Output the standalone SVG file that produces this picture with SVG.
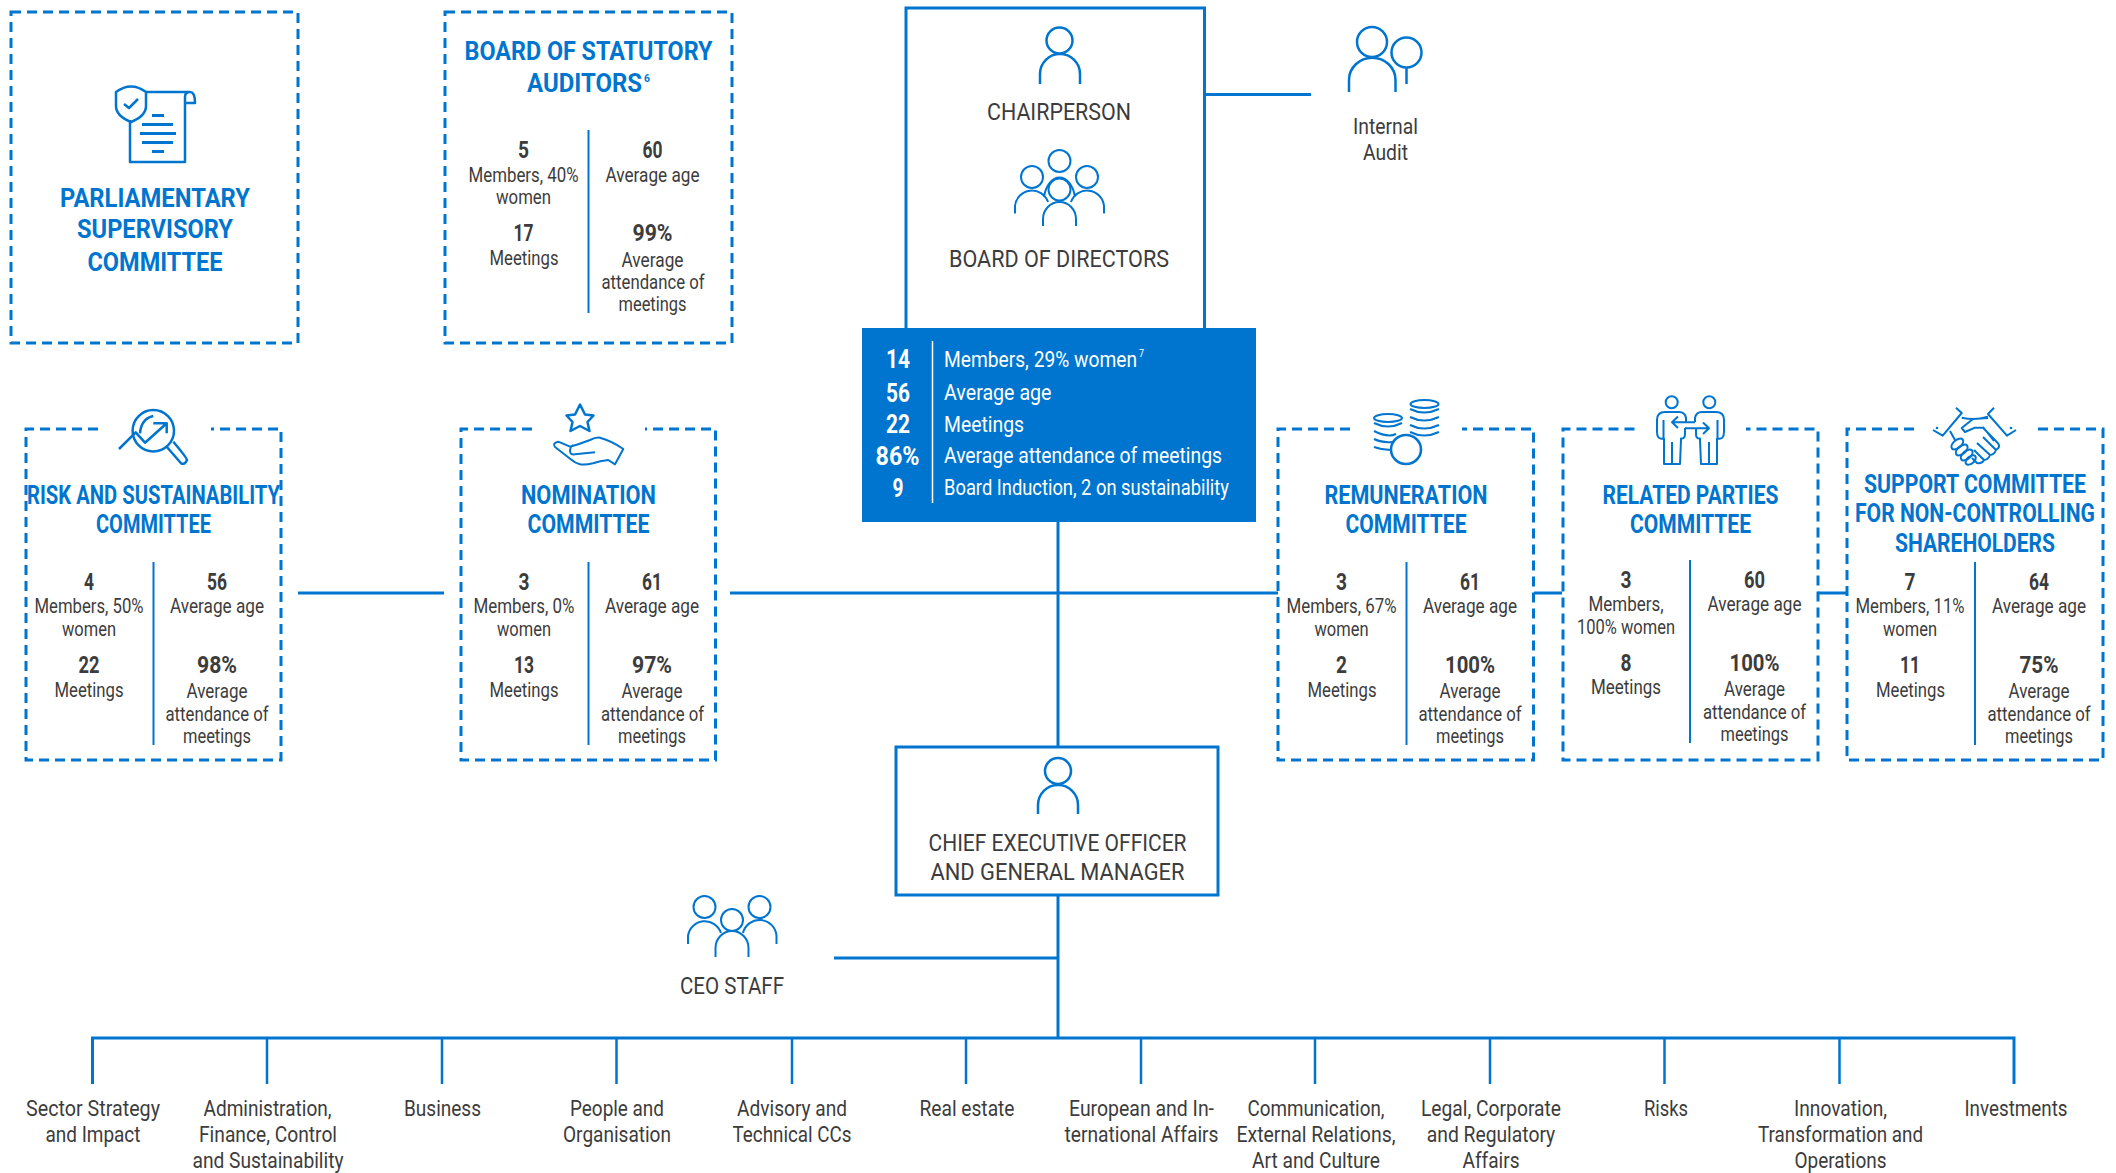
<svg xmlns="http://www.w3.org/2000/svg" width="2116" height="1173" viewBox="0 0 2116 1173">
<style>
text{font-family:Roboto,"Liberation Sans",sans-serif;text-anchor:middle;fill:#3c3c3c;font-size:20.5px}
.t{font-weight:700;fill:#0075cf;font-size:26px}
.n{font-weight:700;font-size:24px}
.h{font-size:24px}
.f{font-size:21.500px}
.w{fill:#fff;text-anchor:start;font-size:22px}
.wn{fill:#fff;font-weight:700;font-size:26px}
.sup{font-size:11px;text-anchor:start}
.dash{fill:none;stroke:#0075cf;stroke-width:3;stroke-dasharray:10 6}
.div{stroke:#0075cf;stroke-width:2;fill:none}
.c{stroke:#0075cf;stroke-width:3;fill:none}
.s{stroke:#0075cf;stroke-width:2.5;fill:none}
.i{stroke:#0075cf;stroke-width:2.5;fill:none;stroke-linejoin:round}
.i2{stroke:#0075cf;stroke-width:2;fill:none;stroke-linejoin:round}
</style>
<g id="connectors">
<path class="c" d="M1206 94.500H1311"/>
<path class="c" d="M298 593H444M730 593H1278M1534 593H1562M1818 593H1846"/>
<path class="c" d="M1058 522V746M1058 895V1038M834 958H1058"/>
<path class="c" d="M92.500 1084V1038H2014V1084"/>
<path class="s" d="M267 1038V1084M442 1038V1084M616.500 1038V1084M792 1038V1084M966 1038V1084M1141 1038V1084M1315 1038V1084M1490 1038V1084M1664.500 1038V1084M1839.500 1038V1084"/>
</g>
<g id="parliamentary">
<rect class="dash" x="11" y="12" width="287" height="331"/>
<path class="i" d="M130 120V162H185V97Q185 92 190 92Q195 92 195 103H185M146 92H190"/>
<path class="i" d="M116 92Q131 81 146 92V106Q146 116 131 122Q116 116 116 106Z" fill="#fff"/>
<path class="i" d="M124 104L129 108L138 99"/>
<path class="c" d="M152 115.500H164M142 124.500H173M140 133.500H176M142 142.500H173M152 151.500H164"/>
<text class="t" x="155" y="207" textLength="190" lengthAdjust="spacingAndGlyphs">PARLIAMENTARY</text>
<text class="t" x="155" y="238" textLength="156" lengthAdjust="spacingAndGlyphs">SUPERVISORY</text>
<text class="t" x="155" y="271" textLength="135" lengthAdjust="spacingAndGlyphs">COMMITTEE</text>
</g>
<g id="statutory">
<rect class="dash" x="445" y="12" width="287" height="331"/>
<text class="t" x="588.500" y="60" textLength="248" lengthAdjust="spacingAndGlyphs">BOARD OF STATUTORY</text>
<text class="t" x="584.500" y="92" textLength="115" lengthAdjust="spacingAndGlyphs">AUDITORS</text>
<text class="sup" x="644" y="82" style="fill:#0075cf;font-weight:700" textLength="6" lengthAdjust="spacingAndGlyphs">6</text>
<path class="div" d="M588.500 130V313"/>
<text class="n" x="523.500" y="158" textLength="11" lengthAdjust="spacingAndGlyphs">5</text>
<text x="523.500" y="182" textLength="110" lengthAdjust="spacingAndGlyphs">Members, 40%</text>
<text x="523.500" y="204" textLength="55" lengthAdjust="spacingAndGlyphs">women</text>
<text class="n" x="523.500" y="241" textLength="20" lengthAdjust="spacingAndGlyphs">17</text>
<text x="524" y="265" textLength="69" lengthAdjust="spacingAndGlyphs">Meetings</text>
<text class="n" x="652.500" y="158" textLength="20" lengthAdjust="spacingAndGlyphs">60</text>
<text x="652.500" y="182" textLength="94" lengthAdjust="spacingAndGlyphs">Average age</text>
<text class="n" x="652.500" y="241" textLength="40" lengthAdjust="spacingAndGlyphs">99%</text>
<text x="652.500" y="267" textLength="62" lengthAdjust="spacingAndGlyphs">Average</text>
<text x="653" y="289" textLength="103" lengthAdjust="spacingAndGlyphs">attendance of</text>
<text x="652.500" y="311" textLength="68" lengthAdjust="spacingAndGlyphs">meetings</text>
</g>
<g id="board">
<path class="c" d="M906 328V8H1204.500V328"/>
<circle class="i" cx="1059.500" cy="40.500" r="13"/>
<path class="i" d="M1040 84V74A20 20 0 0 1 1080 74V84"/>
<text class="h" x="1059" y="120" textLength="144" lengthAdjust="spacingAndGlyphs">CHAIRPERSON</text>
<circle class="i2" cx="1059.500" cy="161" r="11"/>
<circle class="i2" cx="1032" cy="177" r="11"/>
<circle class="i2" cx="1087" cy="177" r="11"/>
<circle class="i2" cx="1059.500" cy="189.500" r="11"/>
<path class="i2" d="M1043 226V219A16.500 17 0 0 1 1076 219V226M1015 213.500V206A17 17 0 0 1 1048 202M1104 213.500V206A17 17 0 0 0 1071 202M1044 197A16 26 0 0 1 1075 197"/>
<text class="h" x="1059" y="267" textLength="220" lengthAdjust="spacingAndGlyphs">BOARD OF DIRECTORS</text>
<rect x="862" y="328" width="394" height="194" fill="#0075cf"/>
<path d="M932.500 341V503" stroke="#fff" stroke-width="1.500"/>
<text class="wn" x="898" y="368" textLength="24" lengthAdjust="spacingAndGlyphs">14</text>
<text class="wn" x="898" y="401.500" textLength="24" lengthAdjust="spacingAndGlyphs">56</text>
<text class="wn" x="898" y="433" textLength="24" lengthAdjust="spacingAndGlyphs">22</text>
<text class="wn" x="897.500" y="465" textLength="44" lengthAdjust="spacingAndGlyphs">86%</text>
<text class="wn" x="898" y="496.500" textLength="11" lengthAdjust="spacingAndGlyphs">9</text>
<text class="w" x="944" y="366.500" textLength="193" lengthAdjust="spacingAndGlyphs">Members, 29% women</text>
<text class="sup" x="1139" y="357" style="fill:#fff" textLength="5" lengthAdjust="spacingAndGlyphs">7</text>
<text class="w" x="944" y="400" textLength="107.500" lengthAdjust="spacingAndGlyphs">Average age</text>
<text class="w" x="944" y="432" textLength="80" lengthAdjust="spacingAndGlyphs">Meetings</text>
<text class="w" x="944" y="463" textLength="278" lengthAdjust="spacingAndGlyphs">Average attendance of meetings</text>
<text class="w" x="944" y="495" textLength="285" lengthAdjust="spacingAndGlyphs">Board Induction, 2 on sustainability</text>
</g>
<g id="internal-audit">
<circle class="i" cx="1372" cy="42" r="15"/>
<path class="i" d="M1349 92V80A23 22 0 0 1 1395.500 80V92"/>
<circle class="i" cx="1406.500" cy="52.500" r="15"/>
<path class="i" d="M1406.500 67V84"/>
<text class="f" x="1385.500" y="134" textLength="65" lengthAdjust="spacingAndGlyphs">Internal</text>
<text class="f" x="1385.500" y="160" textLength="45" lengthAdjust="spacingAndGlyphs">Audit</text>
</g>
<g id="risk">
<path class="dash" d="M98 429H26V760H281V429H211"/>
<circle class="i" cx="153.300" cy="430.700" r="20.700"/>
<path class="i" d="M119 449L135.700 432.300L145 442.700L166.700 423.300M153.300 423.300H166.700V433.300M140 433.300Q141 419 153.300 416"/>
<path class="i" d="M166.700 446.700L181 463.300Q185 465 187 460Q187 458 173.300 441.700"/>
<text class="t" x="153.500" y="504" textLength="253" lengthAdjust="spacingAndGlyphs">RISK AND SUSTAINABILITY</text>
<text class="t" x="153.500" y="533" textLength="115" lengthAdjust="spacingAndGlyphs">COMMITTEE</text>
<path class="div" d="M153.500 562V745"/>
<text class="n" x="89" y="590" textLength="10" lengthAdjust="spacingAndGlyphs">4</text>
<text x="89" y="613" textLength="109" lengthAdjust="spacingAndGlyphs">Members, 50%</text>
<text x="89" y="636" textLength="54" lengthAdjust="spacingAndGlyphs">women</text>
<text class="n" x="89" y="673" textLength="21" lengthAdjust="spacingAndGlyphs">22</text>
<text x="89" y="697" textLength="69" lengthAdjust="spacingAndGlyphs">Meetings</text>
<text class="n" x="217" y="590" textLength="20" lengthAdjust="spacingAndGlyphs">56</text>
<text x="217" y="613" textLength="94" lengthAdjust="spacingAndGlyphs">Average age</text>
<text class="n" x="217" y="673" textLength="40" lengthAdjust="spacingAndGlyphs">98%</text>
<text x="217" y="698" textLength="61" lengthAdjust="spacingAndGlyphs">Average</text>
<text x="217" y="721" textLength="103" lengthAdjust="spacingAndGlyphs">attendance of</text>
<text x="217" y="743" textLength="68" lengthAdjust="spacingAndGlyphs">meetings</text>
</g>
<g id="nomination">
<path class="dash" d="M532 429H461V760H715.500V429H645"/>
<path class="i" d="M580 404.500L585 414.500L593.500 415.500L587.500 422L589.500 431L580 426L570.500 431L572.500 422L566.500 415.500L575 414.500Z"/>
<path class="i2" d="M570 446.700Q580 444 590 440Q596 437 600 437.700Q612 441 623.300 449L615 464.300L608.300 460Q600 461 593 463.300Q586 465 580 464.300Q575 463 571.700 460L555 447Q552 443 558.300 441.700ZM595 452.300L575 454.300Q570 455 570 451Q570 447 573.300 445"/>
<text class="t" x="588.500" y="504" textLength="135" lengthAdjust="spacingAndGlyphs">NOMINATION</text>
<text class="t" x="588.500" y="533" textLength="122" lengthAdjust="spacingAndGlyphs">COMMITTEE</text>
<path class="div" d="M588.500 562V745"/>
<text class="n" x="524" y="590" textLength="11" lengthAdjust="spacingAndGlyphs">3</text>
<text x="524" y="613" textLength="101" lengthAdjust="spacingAndGlyphs">Members, 0%</text>
<text x="524" y="636" textLength="54" lengthAdjust="spacingAndGlyphs">women</text>
<text class="n" x="524" y="673" textLength="20" lengthAdjust="spacingAndGlyphs">13</text>
<text x="524" y="697" textLength="69" lengthAdjust="spacingAndGlyphs">Meetings</text>
<text class="n" x="652" y="590" textLength="20" lengthAdjust="spacingAndGlyphs">61</text>
<text x="652" y="613" textLength="94" lengthAdjust="spacingAndGlyphs">Average age</text>
<text class="n" x="652" y="673" textLength="40" lengthAdjust="spacingAndGlyphs">97%</text>
<text x="652" y="698" textLength="61" lengthAdjust="spacingAndGlyphs">Average</text>
<text x="652.500" y="721" textLength="103" lengthAdjust="spacingAndGlyphs">attendance of</text>
<text x="652" y="743" textLength="68" lengthAdjust="spacingAndGlyphs">meetings</text>
</g>
<g id="remuneration">
<path class="dash" d="M1350 429H1278V760H1533.500V429H1462"/>
<ellipse class="i2" cx="1424.500" cy="404" rx="14" ry="4"/>
<path class="i2" d="M1410 409Q1424 416 1439 409M1410 417Q1424 424 1439 417M1410 425Q1424 432 1439 425M1410 432Q1424 439 1439 432"/>
<ellipse class="i2" cx="1388" cy="418" rx="14" ry="4"/>
<path class="i2" d="M1374 423Q1388 430 1402 423M1374 431Q1388 438 1396 434M1374 439Q1382 443 1392 442M1374 447Q1382 450 1391 450"/>
<ellipse class="i" cx="1406" cy="449.500" rx="15" ry="14.500"/>
<text class="t" x="1406" y="504" textLength="163" lengthAdjust="spacingAndGlyphs">REMUNERATION</text>
<text class="t" x="1406" y="533" textLength="121" lengthAdjust="spacingAndGlyphs">COMMITTEE</text>
<path class="div" d="M1406.500 562V745"/>
<text class="n" x="1341.500" y="590" textLength="11" lengthAdjust="spacingAndGlyphs">3</text>
<text x="1341.500" y="613" textLength="110" lengthAdjust="spacingAndGlyphs">Members, 67%</text>
<text x="1341.500" y="636" textLength="54" lengthAdjust="spacingAndGlyphs">women</text>
<text class="n" x="1341.500" y="673" textLength="11" lengthAdjust="spacingAndGlyphs">2</text>
<text x="1342" y="697" textLength="69" lengthAdjust="spacingAndGlyphs">Meetings</text>
<text class="n" x="1470" y="590" textLength="20" lengthAdjust="spacingAndGlyphs">61</text>
<text x="1470" y="613" textLength="94" lengthAdjust="spacingAndGlyphs">Average age</text>
<text class="n" x="1470" y="673" textLength="50" lengthAdjust="spacingAndGlyphs">100%</text>
<text x="1470" y="698" textLength="61" lengthAdjust="spacingAndGlyphs">Average</text>
<text x="1470" y="721" textLength="103" lengthAdjust="spacingAndGlyphs">attendance of</text>
<text x="1470" y="743" textLength="68" lengthAdjust="spacingAndGlyphs">meetings</text>
</g>
<g id="related">
<path class="dash" d="M1634.500 429H1563V760H1818V429H1746"/>
<circle class="i2" cx="1671.700" cy="402.300" r="6"/>
<circle class="i2" cx="1709.300" cy="402.300" r="6"/>
<path class="i2" id="rp" d="M1663.500 420V438.500Q1657 440 1657 432V420Q1657 412 1665 412H1679Q1685 412 1686 418V422M1664 438V464H1680L1681 440V438.500Q1685 439 1685 434V428M1672 442V464"/>
<path class="i2" d="M1717.500 420V438.500Q1724 440 1724 432V420Q1724 412 1716 412H1702Q1696 412 1695 418V422M1717 438V464H1701L1700 440V438.500Q1696 439 1696 434V428M1709 442V464"/>
<path class="i2" d="M1695 422.300H1672M1678 416.500L1672 422.300L1678 428M1685 428.300H1709M1703 422.500L1709 428.300L1703 434"/>
<text class="t" x="1690.500" y="504" textLength="176" lengthAdjust="spacingAndGlyphs">RELATED PARTIES</text>
<text class="t" x="1690.500" y="533" textLength="121" lengthAdjust="spacingAndGlyphs">COMMITTEE</text>
<path class="div" d="M1690 560V743"/>
<text class="n" x="1626" y="588" textLength="11" lengthAdjust="spacingAndGlyphs">3</text>
<text x="1626" y="611" textLength="75" lengthAdjust="spacingAndGlyphs">Members,</text>
<text x="1626" y="634" textLength="98" lengthAdjust="spacingAndGlyphs">100% women</text>
<text class="n" x="1626" y="671" textLength="11" lengthAdjust="spacingAndGlyphs">8</text>
<text x="1626" y="694" textLength="70" lengthAdjust="spacingAndGlyphs">Meetings</text>
<text class="n" x="1754.500" y="588" textLength="21" lengthAdjust="spacingAndGlyphs">60</text>
<text x="1754.500" y="611" textLength="94" lengthAdjust="spacingAndGlyphs">Average age</text>
<text class="n" x="1754.500" y="671" textLength="50" lengthAdjust="spacingAndGlyphs">100%</text>
<text x="1754.500" y="696" textLength="61" lengthAdjust="spacingAndGlyphs">Average</text>
<text x="1754.500" y="719" textLength="103" lengthAdjust="spacingAndGlyphs">attendance of</text>
<text x="1754.500" y="741" textLength="68" lengthAdjust="spacingAndGlyphs">meetings</text>
</g>
<g id="support">
<path class="dash" d="M1914 429H1847V760H2103V429H2036"/>
<path class="i2" d="M1956 407.700L1961.700 413L1942.700 435.700L1933 430M1994 407.700L1988 414L2007 435.700L2016 430M1961.700 417.700Q1968 419 1973 419Q1980 419 1988 416.700M1988 418L1973 419L1961.700 428L1965 432L1975 427.700H1983L1998 443.300Q2001 447 1996 450L1983 437M1996 450Q1994 455 1990 455L1977 443M1990 455Q1988 460 1984 460L1974 450M1984 460Q1982 464 1977 463L1972 458M1950 431L1955 440M1983 427L1994 441"/>
<ellipse class="i2" cx="1957.300" cy="444" rx="7" ry="4" transform="rotate(-40 1957.300 444)"/>
<ellipse class="i2" cx="1961.700" cy="450" rx="7" ry="4" transform="rotate(-40 1961.700 450)"/>
<ellipse class="i2" cx="1966.700" cy="455" rx="7" ry="4" transform="rotate(-40 1966.700 455)"/>
<ellipse class="i2" cx="1970.700" cy="460" rx="6" ry="3.500" transform="rotate(-40 1970.700 460)"/>
<circle cx="1937" cy="428" r="1.300" fill="#0075cf"/>
<circle cx="2011" cy="428" r="1.300" fill="#0075cf"/>
<text class="t" x="1975" y="493" textLength="222" lengthAdjust="spacingAndGlyphs">SUPPORT COMMITTEE</text>
<text class="t" x="1975" y="522" textLength="240" lengthAdjust="spacingAndGlyphs">FOR NON-CONTROLLING</text>
<text class="t" x="1975" y="552" textLength="160" lengthAdjust="spacingAndGlyphs">SHAREHOLDERS</text>
<path class="div" d="M1975 562V745"/>
<text class="n" x="1910" y="590" textLength="11" lengthAdjust="spacingAndGlyphs">7</text>
<text x="1910" y="613" textLength="109" lengthAdjust="spacingAndGlyphs">Members, 11%</text>
<text x="1910" y="636" textLength="54" lengthAdjust="spacingAndGlyphs">women</text>
<text class="n" x="1910" y="673" textLength="20" lengthAdjust="spacingAndGlyphs">11</text>
<text x="1910.500" y="697" textLength="69" lengthAdjust="spacingAndGlyphs">Meetings</text>
<text class="n" x="2039" y="590" textLength="20" lengthAdjust="spacingAndGlyphs">64</text>
<text x="2039" y="613" textLength="94" lengthAdjust="spacingAndGlyphs">Average age</text>
<text class="n" x="2039" y="673" textLength="39" lengthAdjust="spacingAndGlyphs">75%</text>
<text x="2039" y="698" textLength="61" lengthAdjust="spacingAndGlyphs">Average</text>
<text x="2039" y="721" textLength="103" lengthAdjust="spacingAndGlyphs">attendance of</text>
<text x="2039" y="743" textLength="68" lengthAdjust="spacingAndGlyphs">meetings</text>
</g>
<g id="ceo">
<rect class="c" x="896" y="747" width="322" height="148"/>
<circle class="i" cx="1058" cy="771" r="13"/>
<path class="i" d="M1038 814V805A20 20 0 0 1 1078 805V814"/>
<text class="h" x="1057.500" y="851" textLength="258" lengthAdjust="spacingAndGlyphs">CHIEF EXECUTIVE OFFICER</text>
<text class="h" x="1057.500" y="880" textLength="254" lengthAdjust="spacingAndGlyphs">AND GENERAL MANAGER</text>
</g>
<g id="ceo-staff">
<circle class="i2" cx="704.500" cy="907" r="11"/>
<circle class="i2" cx="759.500" cy="907" r="11"/>
<circle class="i2" cx="732" cy="920" r="11"/>
<path class="i2" d="M688 944V936A17 17 0 0 1 721 933M776.500 944V936A17 17 0 0 0 743 933M715.500 957V948A16.500 17 0 0 1 748.500 948V957"/>
<text class="h" x="732" y="994" textLength="104" lengthAdjust="spacingAndGlyphs">CEO STAFF</text>
</g>
<g id="dept-1"><text class="f" x="93" y="1116" textLength="134" lengthAdjust="spacingAndGlyphs">Sector Strategy</text><text class="f" x="93" y="1142" textLength="95" lengthAdjust="spacingAndGlyphs">and Impact</text></g>
<g id="dept-2"><text class="f" x="267.500" y="1116" textLength="128" lengthAdjust="spacingAndGlyphs">Administration,</text><text class="f" x="268" y="1142" textLength="138" lengthAdjust="spacingAndGlyphs">Finance, Control</text><text class="f" x="268" y="1168" textLength="151" lengthAdjust="spacingAndGlyphs">and Sustainability</text></g>
<g id="dept-3"><text class="f" x="442.500" y="1116" textLength="77" lengthAdjust="spacingAndGlyphs">Business</text></g>
<g id="dept-4"><text class="f" x="617" y="1116" textLength="94" lengthAdjust="spacingAndGlyphs">People and</text><text class="f" x="617" y="1142" textLength="108" lengthAdjust="spacingAndGlyphs">Organisation</text></g>
<g id="dept-5"><text class="f" x="792" y="1116" textLength="110" lengthAdjust="spacingAndGlyphs">Advisory and</text><text class="f" x="792" y="1142" textLength="119" lengthAdjust="spacingAndGlyphs">Technical CCs</text></g>
<g id="dept-6"><text class="f" x="967" y="1116" textLength="95" lengthAdjust="spacingAndGlyphs">Real estate</text></g>
<g id="dept-7"><text class="f" x="1141.500" y="1116" textLength="145" lengthAdjust="spacingAndGlyphs">European and In-</text><text class="f" x="1141.500" y="1142" textLength="154" lengthAdjust="spacingAndGlyphs">ternational Affairs</text></g>
<g id="dept-8"><text class="f" x="1316" y="1116" textLength="137" lengthAdjust="spacingAndGlyphs">Communication,</text><text class="f" x="1316" y="1142" textLength="159" lengthAdjust="spacingAndGlyphs">External Relations,</text><text class="f" x="1316" y="1168" textLength="128" lengthAdjust="spacingAndGlyphs">Art and Culture</text></g>
<g id="dept-9"><text class="f" x="1491" y="1116" textLength="140" lengthAdjust="spacingAndGlyphs">Legal, Corporate</text><text class="f" x="1491" y="1142" textLength="128.500" lengthAdjust="spacingAndGlyphs">and Regulatory</text><text class="f" x="1491" y="1168" textLength="57" lengthAdjust="spacingAndGlyphs">Affairs</text></g>
<g id="dept-10"><text class="f" x="1666" y="1116" textLength="44" lengthAdjust="spacingAndGlyphs">Risks</text></g>
<g id="dept-11"><text class="f" x="1840.500" y="1116" textLength="93" lengthAdjust="spacingAndGlyphs">Innovation,</text><text class="f" x="1840.500" y="1142" textLength="165" lengthAdjust="spacingAndGlyphs">Transformation and</text><text class="f" x="1840.500" y="1168" textLength="92" lengthAdjust="spacingAndGlyphs">Operations</text></g>
<g id="dept-12"><text class="f" x="2016" y="1116" textLength="103" lengthAdjust="spacingAndGlyphs">Investments</text></g>
</svg>
